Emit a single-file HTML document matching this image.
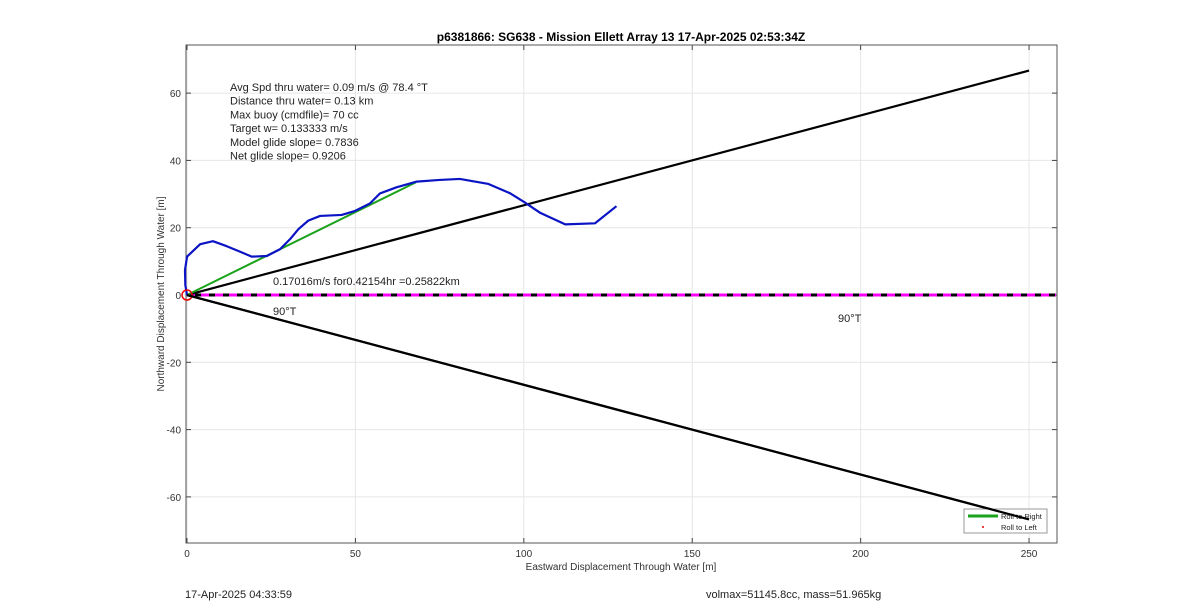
<!DOCTYPE html>
<html><head><meta charset="utf-8"><style>
body{margin:0;background:#fff;width:1200px;height:611px;overflow:hidden;font-family:"Liberation Sans",sans-serif}
svg{display:block}
</style></head><body>
<svg id="chart" width="1200" height="611"></svg>
<script>
const xTicks=[0,50,100,150,200,250];
const yTicks=[-60,-40,-20,0,20,40,60];
const trackX=[0,-0.5,-0.6,0,3.9,7.7,11.8,15.7,19.2,23.7,27.6,30.6,33.1,36,39.5,45.9,49.9,54.3,57.3,62.2,68.2,75,81,89.5,96,100,104.9,112.3,121.1,127.5];
const trackY=[0,3,7.4,11.4,15.1,16,14.5,12.9,11.4,11.6,13.6,16.6,19.6,22.1,23.5,23.8,25,27.2,30.2,32,33.7,34.2,34.5,33,30.2,27.7,24.4,21,21.3,26.4];
const glideX=[0,68];
const glideY=[0,33.5];
const upperX=[0,250];
const upperY=[0,66.7];
const lowerX=[0,250];
const lowerY=[0,-66.7];
const zeroX=[0,258];
const zeroY=[0,0];
const infoLines=["Avg Spd thru water=  0.09 m/s @  78.4 °T","Distance thru water=  0.13 km","Max buoy (cmdfile)= 70 cc","Target w= 0.133333 m/s","Model glide slope= 0.7836","Net glide slope= 0.9206"];

const L=186,R=1057,T=45,B=543;
const xMin=-0.3,xMax=258.3,yMin=-73.7,yMax=74.3;
const sx=v=>L+(v-xMin)/(xMax-xMin)*(R-L);
const sy=v=>B-(v-yMin)/(yMax-yMin)*(B-T);
const svg=document.getElementById('chart');
const NS='http://www.w3.org/2000/svg';
function mk(tag,attrs,parent){const e=document.createElementNS(NS,tag);for(const k in attrs)e.setAttribute(k,attrs[k]);(parent||svg).appendChild(e);return e;}
function txt(s,x,y,attrs){const e=mk('text',Object.assign({x:x,y:y,'font-size':11,fill:'#222'},attrs||{}));e.textContent=s;return e;}

const bg=mk('rect',{x:L,y:T,width:R-L,height:B-T,fill:'#fff',stroke:'none'});


xTicks.forEach(v=>{
 const g=mk('line',{x1:sx(v),x2:sx(v),y1:T,y2:B,stroke:'#e6e6e6','stroke-width':1});
 
 
 mk('line',{x1:sx(v),x2:sx(v),y1:B,y2:B-5,stroke:'#444'});
 mk('line',{x1:sx(v),x2:sx(v),y1:T,y2:T+5,stroke:'#444'});
 const t=txt(String(v),sx(v),557,{'text-anchor':'middle','font-size':10,fill:'#333'});
 
 
});
yTicks.forEach(v=>{
 const g=mk('line',{x1:L,x2:R,y1:sy(v),y2:sy(v),stroke:'#e6e6e6','stroke-width':1});
 
 
 mk('line',{x1:L,x2:L+5,y1:sy(v),y2:sy(v),stroke:'#444'});
 mk('line',{x1:R,x2:R-5,y1:sy(v),y2:sy(v),stroke:'#444'});
 const t=txt(String(v),L-5,sy(v)+4,{'text-anchor':'end','font-size':10,fill:'#333'});
 
 
});
const box=mk('rect',{x:L,y:T,width:R-L,height:B-T,fill:'none',stroke:'#555','stroke-width':1});



function line(xs,ys,attrs,name){
 const p=mk('polyline',Object.assign({points:xs.map((x,i)=>sx(x)+','+sy(ys[i])).join(' '),fill:'none'},attrs));
 
 
 return p;
}
line(zeroX,zeroY,{stroke:'#000','stroke-width':3},'zero-line-black');
line(zeroX,zeroY,{stroke:'#ff00ff','stroke-width':3,'stroke-dasharray':'8,6'},'zero-line-magenta');
line(upperX,upperY,{stroke:'#000','stroke-width':2.2},'upper-heading-line');
line(lowerX,lowerY,{stroke:'#000','stroke-width':2.2},'lower-heading-line');
line(glideX,glideY,{stroke:'#1aa31a','stroke-width':2},'glide-line');
line(trackX,trackY,{stroke:'#0b14c4','stroke-width':2.2,'stroke-linejoin':'round'},'track-line');
const c=mk('circle',{cx:sx(0),cy:sy(0),r:5,fill:'none',stroke:'#e00','stroke-width':1.5});



infoLines.forEach((s,i)=>{const t=txt(s,230,91+i*13.7);});
let t;
t=txt('0.17016m/s for0.42154hr =0.25822km',273,285);
t=txt('90°T',273,315);
t=txt('90°T',838,322);
t=txt('p6381866: SG638 - Mission Ellett Array 13 17-Apr-2025 02:53:34Z',621,41,{'text-anchor':'middle','font-size':12,'font-weight':'bold',fill:'#000'});
t=txt('Eastward Displacement Through Water [m]',621,570,{'text-anchor':'middle','font-size':10,fill:'#333'});
t=txt('Northward Displacement Through Water [m]',0,0,{'text-anchor':'middle','font-size':10,fill:'#333',transform:'translate(164,294) rotate(-90)'});
t=txt('17-Apr-2025 04:33:59',185,598,{'font-size':11});
t=txt('volmax=51145.8cc, mass=51.965kg',706,598,{'font-size':11});

const lg=mk('g',{});


mk('rect',{x:964,y:509,width:83,height:24,fill:'#fff',stroke:'#999'},lg);
mk('line',{x1:968,x2:998,y1:516,y2:516,stroke:'#1aa31a','stroke-width':3},lg);
mk('circle',{cx:983,cy:527,r:1,fill:'#e00'},lg);
txt('Roll to Right',1001,519,{'font-size':7.5,fill:'#222'},lg);
txt('Roll to Left',1001,530,{'font-size':7.5,fill:'#222'},lg);
line(lowerX,lowerY,{stroke:'#000','stroke-width':2.2},'lower-heading-line-over');
</script>
</body></html>
